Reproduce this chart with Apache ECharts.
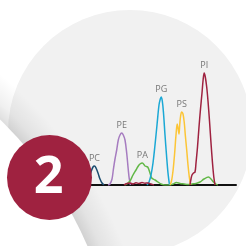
<!DOCTYPE html>
<html>
<head>
<meta charset="utf-8">
<script src="https://cdn.jsdelivr.net/npm/echarts@6/dist/echarts.min.js"></script>
<style>
  html, body { margin: 0; padding: 0; background: #fff; }
  #main { width: 246px; height: 246px; }
</style>
</head>
<body>
<div id="main"></div>
<script>
// scan position (0..156) and detector response
var pcData = [[6,0],[9,6],[11,13],[13,18],[14.5,19],[16,17],[18,12],[20,6],[22,2],[24,0]];
var peData = [[28,0],[30,1],[32,6],[33.3,15],[35,26],[36.7,35],[38.3,45],[40,50],[41.7,52],[43.3,50],[45,45],[46.7,32],[48.3,15],[49.3,6],[50.5,0]];
var paData = [[45,0],[48,2],[50,4],[53,10],[56,15],[58.3,19],[60,21],[62.3,22],[65,19],[67.7,18],[70,12],[71.7,7],[75,5],[78,3],[81,1],[85,0],[90,0],[93,1],[96.5,2.5],[100,1.5],[104,1],[108,0.5],[112,1],[116,1.5],[120,3],[124,6],[128.5,8],[131,6],[133.5,3],[136.5,0.5],[138,0]];
var pgData = [[67,0],[69,3],[71,10],[73,22],[75,40],[77,60],[79,80],[80.3,86],[81.2,88],[82.3,84],[83.5,72],[85,50],[86.5,30],[88,12],[89.5,0]];
var psData = [[90,0],[91.5,4],[93,14],[94.5,30],[96,50],[97.2,61],[98,57],[99,51],[99.7,60],[100.6,69],[101.7,73],[103,71],[104.3,62],[105.3,50],[106.7,35],[108,20],[109.3,8],[110.5,0]];
var piData = [[110,0],[111,6],[112,10],[113.5,12],[115,13],[116,22],[117.5,38],[119,58],[120.5,76],[122,92],[123.2,106],[124.2,112],[125.3,108],[126.7,98],[128,84],[129.5,64],[131,42],[132.5,22],[133.8,8],[135,0]];
var piLowData = [[44,0],[47,1.5],[50,2],[53,1],[56,2.2],[59,1.5],[62,2.5],[65,1.8],[68,2],[71,1],[74,0]];

var peakNames = ['PC', 'PE', 'PA', 'PG', 'PS', 'PI'];
var peakColors = ['#1b4d70', '#a67cc0', '#62b847', '#1ba8d5', '#fcc536', '#9f2240'];
var peakData = [pcData, peData, paData, pgData, psData, piData];

var chartDom = document.getElementById('main');
var myChart = echarts.init(chartDom);

var series = peakNames.map(function (name, i) {
  return {
    name: name,
    type: 'line',
    data: peakData[i],
    smooth: 0.35,
    showSymbol: false,
    lineStyle: { color: peakColors[i], width: 1.5 },
    markPoint: {
      symbol: 'circle',
      symbolSize: 1,
      itemStyle: { color: 'rgba(0,0,0,0)' },
      data: [{ type: 'max' }],
      label: {
        show: true,
        position: 'top',
        distance: 3,
        formatter: name,
        color: '#777',
        fontSize: 9,
        fontFamily: 'Open Sans'
      }
    }
  };
});
series.push({
  type: 'line',
  data: piLowData,
  smooth: 0.35,
  showSymbol: false,
  lineStyle: { color: '#9f2240', width: 1.5 }
});

var option = {
  animation: false,
  grid: { left: 80, right: 10, top: 65, bottom: 61 },
  xAxis: {
    type: 'value',
    min: 0,
    max: 156,
    axisLine: { lineStyle: { color: '#111', width: 2 } },
    axisTick: { show: false },
    axisLabel: { show: false },
    splitLine: { show: false }
  },
  yAxis: { type: 'value', min: 0, max: 120, show: false },
  graphic: [
    { type: 'circle', z: -10, shape: { cx: 130, cy: 132, r: 122 }, style: { fill: '#f1f1f1' } },
    {
      type: 'circle', z: -9,
      shape: { cx: -275, cy: 403, r: 440 },
      style: {
        fill: {
          type: 'radial', x: -275, y: 403, r: 440, global: true,
          colorStops: [
            { offset: 0, color: 'rgba(0,0,0,0.13)' },
            { offset: 0.898, color: 'rgba(0,0,0,0.13)' },
            { offset: 0.925, color: 'rgba(0,0,0,0.06)' },
            { offset: 0.975, color: 'rgba(0,0,0,0)' },
            { offset: 1, color: 'rgba(0,0,0,0)' }
          ]
        }
      }
    },
    { type: 'circle', z: -8, shape: { cx: -275, cy: 403, r: 395 }, style: { fill: '#ffffff' } },
    { type: 'circle', z: 100, shape: { cx: 49.5, cy: 177.5, r: 42.5 }, style: { fill: '#9f2240' } },
    {
      type: 'text', z: 101,
      style: {
        text: '2', x: 48.5, y: 178, align: 'center', verticalAlign: 'middle',
        fill: '#fff', fontSize: 52, fontWeight: 'bold', fontFamily: 'Open Sans'
      }
    }
  ],
  series: series
};

option && myChart.setOption(option);
</script>
</body>
</html>
